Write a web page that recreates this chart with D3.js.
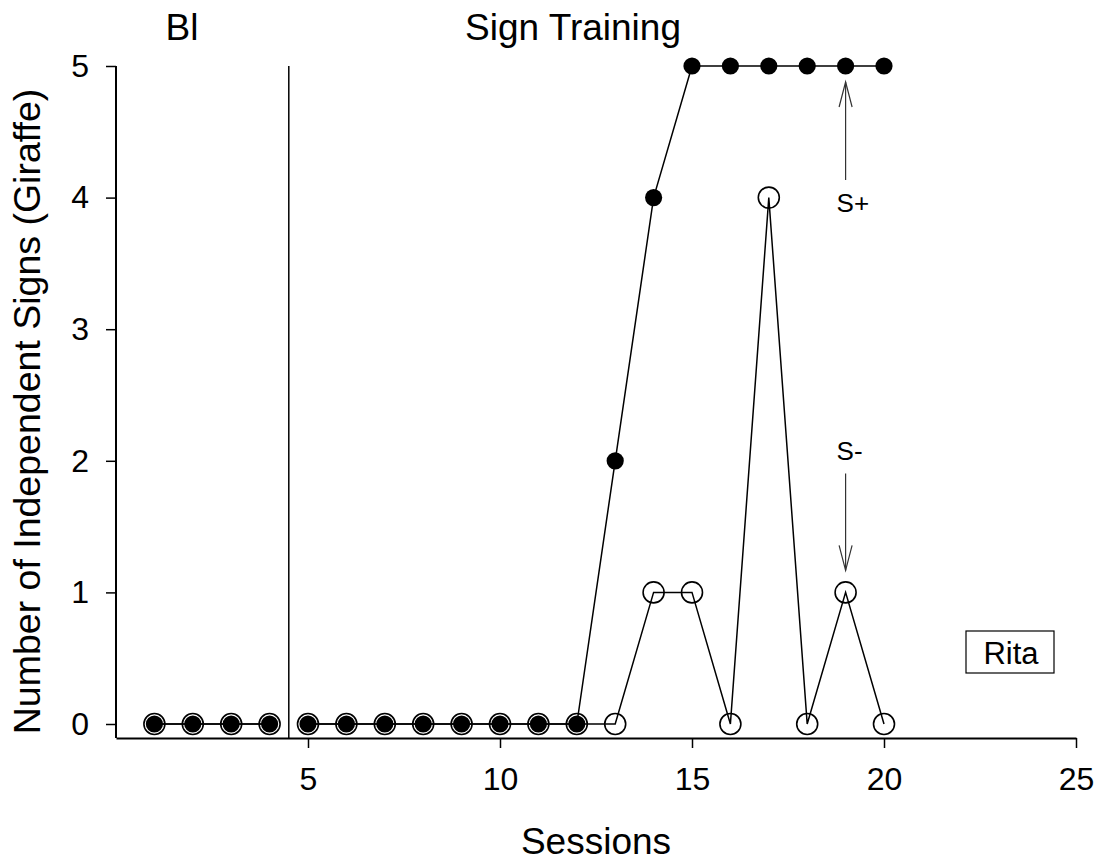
<!DOCTYPE html>
<html>
<head>
<meta charset="utf-8">
<script src="https://cdn.jsdelivr.net/npm/d3@7"></script>
<style>
  body { margin: 0; background: #fff; }
  svg { font-family: "Liberation Sans", Arial, sans-serif; }
</style>
</head>
<body>
<svg id="chart" width="1099" height="863"></svg>
<script>
// sessions and counts
const sessions = [1, 2, 3, 4, 5, 6, 7, 8, 9, 10, 11, 12, 13, 14, 15, 16, 17, 18, 19, 20];
const splus = [0, 0, 0, 0, 0, 0, 0, 0, 0, 0, 0, 0, 2, 4, 5, 5, 5, 5, 5, 5];
const sminus = [0, 0, 0, 0, 0, 0, 0, 0, 0, 0, 0, 0, 0, 1, 1, 0, 4, 0, 1, 0];
const phaseChange = 4.5;
const xTicks = [5, 10, 15, 20, 25];
const yTicks = [0, 1, 2, 3, 4, 5];

const svg = d3.select("#chart");

const xScale = d3.scaleLinear().domain([0, 25]).range([116, 1076]);
const yScale = d3.scaleLinear().domain([0, 5]).range([724, 66]);
const axisY = 738;

// x axis
const xAxis = d3.axisBottom(xScale)
  .tickValues(xTicks)
  .tickFormat(d3.format("d"))
  .tickSize(10)
  .tickSizeOuter(0)
  .tickPadding(19);
const xAxisG = svg.append("g")
  .attr("transform", `translate(0, ${axisY})`)
  .call(xAxis);

// y axis
const yAxis = d3.axisLeft(yScale)
  .tickValues(yTicks)
  .tickFormat(d3.format("d"))
  .tickSize(10)
  .tickPadding(17);
const yAxisG = svg.append("g")
  .attr("transform", `translate(${xScale(0)}, 0)`)
  .call(yAxis);
yAxisG.select(".domain").remove();
yAxisG.append("line")
  .attr("x1", 0).attr("x2", 0)
  .attr("y1", yScale(5)).attr("y2", axisY)
  .attr("stroke", "#000").attr("stroke-width", 2);

[xAxisG, yAxisG].forEach(g => {
  g.attr("font-size", 32).attr("font-family", "Liberation Sans, Arial, sans-serif");
  g.selectAll(".domain").attr("stroke-width", 2);
  g.selectAll(".tick line").attr("stroke-width", 1.5);
  g.selectAll(".tick text").attr("fill", "#000");
});

// phase change line
svg.append("line")
  .attr("x1", xScale(phaseChange)).attr("x2", xScale(phaseChange))
  .attr("y1", yScale(5)).attr("y2", axisY)
  .attr("stroke", "#000").attr("stroke-width", 1.5);

const line = d3.line()
  .x(d => xScale(d.s))
  .y(d => yScale(d.v));

const toPoints = values => sessions.map((s, i) => ({ s: s, v: values[i] }));
const phases = pts => [pts.filter(d => d.s < phaseChange), pts.filter(d => d.s > phaseChange)];

const minusPts = toPoints(sminus);
const plusPts = toPoints(splus);

// S- series (open circles)
phases(minusPts).forEach(p => {
  svg.append("path")
    .datum(p)
    .attr("d", line)
    .attr("fill", "none")
    .attr("stroke", "#000")
    .attr("stroke-width", 1.5);
});
svg.selectAll(".open")
  .data(minusPts)
  .enter()
  .append("circle")
  .attr("class", "open")
  .attr("cx", d => xScale(d.s))
  .attr("cy", d => yScale(d.v))
  .attr("r", 10.5)
  .attr("fill", "none")
  .attr("stroke", "#000")
  .attr("stroke-width", 1.6);

// S+ series (filled circles)
phases(plusPts).forEach(p => {
  svg.append("path")
    .datum(p)
    .attr("d", line)
    .attr("fill", "none")
    .attr("stroke", "#000")
    .attr("stroke-width", 1.5);
});
svg.selectAll(".filled")
  .data(plusPts)
  .enter()
  .append("circle")
  .attr("class", "filled")
  .attr("cx", d => xScale(d.s))
  .attr("cy", d => yScale(d.v))
  .attr("r", 8.6)
  .attr("fill", "#000");

// arrows and labels
const arrows = [
  { label: "S+", s: 19, v: 5, dir: "up", tipGap: 16, len: 98, labelDy: 32 },
  { label: "S-", s: 19, v: 1, dir: "down", tipGap: 22, len: 97, labelDy: -13 }
];
arrows.forEach(a => {
  const x = xScale(a.s);
  const sign = a.dir === "up" ? 1 : -1;
  const tip = yScale(a.v) + sign * a.tipGap;
  const tail = tip + sign * a.len;
  const g = svg.append("g").attr("stroke", "#333").attr("stroke-width", 1.2).attr("fill", "none");
  g.append("line").attr("x1", x).attr("x2", x).attr("y1", tail).attr("y2", tip);
  g.append("path").attr("d", `M${x - 6.5},${tip + sign * 25}L${x},${tip}L${x + 6.5},${tip + sign * 25}`);
  svg.append("text")
    .attr("x", x - 9)
    .attr("y", tail + a.labelDy)
    .attr("font-size", 26)
    .text(a.label);
});

// phase labels
svg.append("text").attr("x", 182).attr("y", 40).attr("text-anchor", "middle")
  .attr("font-size", 37).text("Bl");
svg.append("text").attr("x", 465).attr("y", 40)
  .attr("font-size", 37).text("Sign Training");

// axis titles
svg.append("text").attr("x", 596).attr("y", 854).attr("text-anchor", "middle")
  .attr("font-size", 37).text("Sessions");
svg.append("text")
  .attr("transform", `translate(40, ${(88 + 735) / 2}) rotate(-90)`)
  .attr("text-anchor", "middle")
  .attr("font-size", 37.5)
  .text("Number of Independent Signs (Giraffe)");

// subject box
svg.append("rect")
  .attr("x", 966).attr("y", 631).attr("width", 88).attr("height", 42)
  .attr("fill", "#fff").attr("stroke", "#000").attr("stroke-width", 1.2);
svg.append("text").attr("x", 1011).attr("y", 664).attr("text-anchor", "middle")
  .attr("font-size", 31).text("Rita");
</script>
</body>
</html>
